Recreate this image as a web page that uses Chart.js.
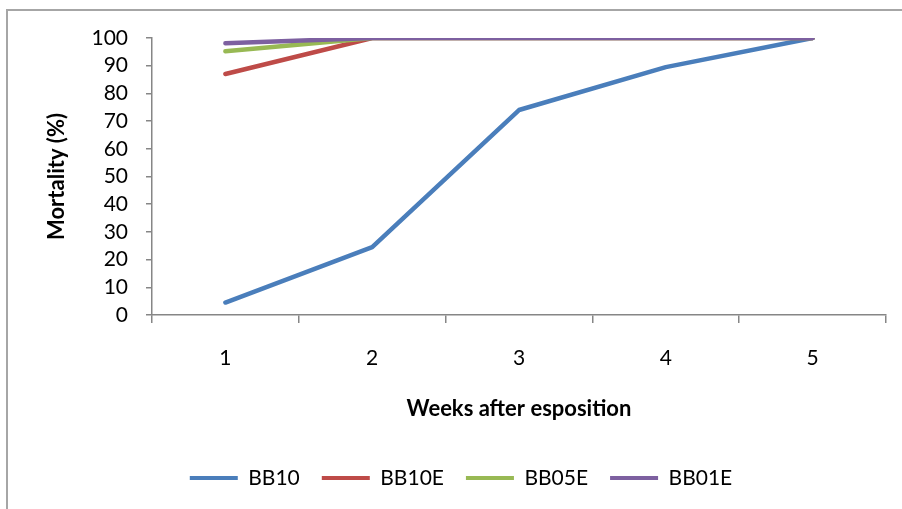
<!DOCTYPE html>
<html>
<head>
<meta charset="utf-8">
<script src="https://cdn.jsdelivr.net/npm/chart.js@4.4.0/dist/chart.umd.min.js"></script>
<style>
  html, body { margin: 0; padding: 0; background: #fff; overflow: hidden; }
  #wrap { position: relative; width: 902px; height: 509px; overflow: hidden; background: #fff; }
  #frame { position: absolute; left: 6px; top: 9px; width: 1000px; height: 700px; border: 2px solid #a6a6a6; box-sizing: border-box; }
  canvas { position: absolute; left: 0; top: 0; }
</style>
</head>
<body>
<div id="wrap">
  <div id="frame"></div>
  <canvas id="c" width="902" height="509"></canvas>
</div>
<script>
const weeks = ['1', '2', '3', '4', '5'];
const seriesNames = ['BB10', 'BB10E', 'BB05E', 'BB01E'];
const bb10  = [4.5, 24.5, 74, 89.5, 100];
const bb10e = [87, 100, 100, 100, 100];
const bb05e = [95.2, 100, 100, 100, 100];
const bb01e = [98.1, 100, 100, 100, 100];
const colors = ['#4a7ebb', '#be4b48', '#98b954', '#7d60a0'];
const yTitle = 'Mortality (%)';
const xTitle = 'Weeks after esposition';

const FONT = 'Lato, "Open Sans", sans-serif';
const FS = 21;
const TFS = 22;
const axisGray = '#868686';

const seriesData = [bb10, bb10e, bb05e, bb01e];
const datasets = seriesData.map((d, i) => ({
  label: seriesNames[i],
  data: d,
  borderColor: colors[i],
  backgroundColor: colors[i],
  borderWidth: 4.5,
  borderCapStyle: 'round',
  borderJoinStyle: 'round',
  pointRadius: 0,
  pointHoverRadius: 0,
  tension: 0,
  fill: false,
  order: seriesData.length - i
}));

const legendShift = {
  id: 'legendShift',
  afterLayout(chart) {
    if (chart.legend) { chart.legend.left += 18; chart.legend.right += 18; }
  }
};

new Chart(document.getElementById('c'), {
  type: 'line',
  data: { labels: weeks, datasets },
  plugins: [legendShift],
  options: {
    responsive: false,
    animation: false,
    devicePixelRatio: 1,
    layout: { padding: { left: 0, right: 16, top: 38, bottom: 10.5 } },
    plugins: {
      tooltip: { enabled: false },
      legend: {
        position: 'bottom',
        labels: {
          boxWidth: 48,
          boxHeight: 4,
          padding: 22,
          color: '#000',
          font: { family: FONT, size: FS },
          sort: (a, b) => a.datasetIndex - b.datasetIndex,
          generateLabels: (chart) => chart.data.datasets.map((ds, i) => ({
            text: ds.label,
            fillStyle: ds.borderColor,
            strokeStyle: ds.borderColor,
            lineWidth: 0,
            hidden: false,
            datasetIndex: i
          }))
        }
      }
    },
    scales: {
      x: {
        type: 'category',
        offset: true,
        grid: { display: true, drawOnChartArea: false, drawTicks: true, tickLength: 8, offset: true, color: axisGray, lineWidth: 1.5 },
        border: { display: true, color: axisGray, width: 1.5 },
        ticks: { color: '#000', font: { family: FONT, size: FS }, padding: 23, maxRotation: 0, autoSkip: false },
        title: { display: true, text: xTitle, color: '#000', font: { family: FONT, size: TFS, weight: 'bold' }, padding: { top: 0, bottom: 23.3 } },
        afterFit: (s) => { s.height = 130.5; }
      },
      y: {
        min: 0,
        max: 100,
        ticks: { stepSize: 10, color: '#000', font: { family: FONT, size: FS, lineHeight: 1 }, padding: 18, autoSkip: false },
        grid: { display: true, drawOnChartArea: false, drawTicks: true, tickLength: 6, color: axisGray, lineWidth: 1.5 },
        border: { display: true, color: axisGray, width: 1.5 },
        title: { display: true, text: yTitle, color: '#000', font: { family: FONT, size: TFS, weight: 'bold' }, padding: { top: 43.8, bottom: 0 } },
        afterFit: (s) => { s.width = 152; }
      }
    }
  }
});
</script>
</body>
</html>
